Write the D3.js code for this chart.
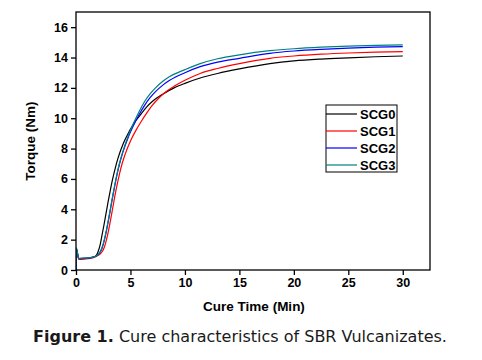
<!DOCTYPE html>
<html><head><meta charset="utf-8">
<script src="https://cdn.jsdelivr.net/npm/d3@7"></script>
<style>body{margin:0;background:#fff} svg{display:block}</style>
</head><body>
<script>
const seriesNames = ["SCG0", "SCG1", "SCG2", "SCG3"];
const seriesColors = ["#000000", "#ff0000", "#0000ff", "#008080"];

const timeSCG0 = [0,0.03,0.25,0.8,1.3,1.7,1.9,2.05,2.2,2.35,2.55,2.75,2.95,3.15,3.35,3.6,3.85,4.35,4.9,5.45,6.0,6.5,7,8,9,10,11.4,13,15,17.8,20,22.5,25,27.5,30];
const torqueSCG0 = [0,1.4,0.75,0.76,0.8,0.88,1.0,1.25,1.6,2.15,2.9,3.7,4.5,5.25,5.95,6.7,7.35,8.35,9.15,9.8,10.3,10.75,11.1,11.6,12.0,12.3,12.65,12.95,13.25,13.6,13.78,13.9,13.98,14.05,14.1];

const timeSCG1 = [0,0.03,0.25,0.8,1.3,1.7,2.0,2.2,2.4,2.6,2.8,3.0,3.2,3.4,3.6,3.8,4.0,4.25,4.5,5.0,5.5,6.0,6.5,7.0,7.5,8,9,10,11.4,13,15,17.8,20,22.5,25,27.5,30];
const torqueSCG1 = [0,1.35,0.7,0.72,0.76,0.84,0.95,1.05,1.2,1.5,2.0,2.65,3.4,4.2,5.0,5.7,6.35,7.05,7.6,8.5,9.2,9.8,10.35,10.85,11.25,11.6,12.1,12.5,12.95,13.28,13.6,13.95,14.1,14.22,14.3,14.35,14.39];

const timeSCG2 = [0,0.03,0.25,0.8,1.3,1.7,2.0,2.2,2.4,2.6,2.8,3.0,3.2,3.4,3.6,3.8,4.0,4.3,4.8,5.3,5.8,6.3,6.8,7.3,8,8.6,10,11.4,13,15,17.8,20,22.5,25,27.5,30];
const torqueSCG2 = [0,1.45,0.75,0.77,0.8,0.87,0.98,1.15,1.45,1.95,2.6,3.35,4.15,4.95,5.7,6.4,7.0,7.75,8.75,9.55,10.25,10.85,11.35,11.75,12.2,12.5,13.0,13.4,13.7,13.95,14.28,14.43,14.54,14.62,14.68,14.72];

const timeSCG3 = [0,0.03,0.25,0.8,1.3,1.7,2.0,2.2,2.4,2.6,2.8,3.0,3.2,3.4,3.6,3.8,4.0,4.3,4.8,5.3,5.8,6.3,6.8,7.3,8,8.6,10,11.4,13,15,17.8,20,22.5,25,27.5,30];
const torqueSCG3 = [0,1.45,0.77,0.78,0.82,0.88,1.0,1.18,1.5,2.0,2.65,3.4,4.2,5.0,5.75,6.45,7.05,7.8,8.85,9.7,10.45,11.1,11.6,12.0,12.45,12.75,13.2,13.6,13.92,14.18,14.45,14.58,14.68,14.75,14.8,14.83];

const xTicks = [0, 5, 10, 15, 20, 25, 30];
const yTicks = [0, 2, 4, 6, 8, 10, 12, 14, 16];

const times = [timeSCG0, timeSCG1, timeSCG2, timeSCG3];
const torques = [torqueSCG0, torqueSCG1, torqueSCG2, torqueSCG3];

const W = 482, H = 360;
const L = 76, R = 430, T = 12, B = 270;

const svg = d3.select("body").append("svg").attr("width", W).attr("height", H)
  .style("font-family", "'Liberation Sans', Arial, sans-serif");

const x = d3.scaleLinear().domain([0, 32.5]).range([L, R]);
const y = d3.scaleLinear().domain([0, 17]).range([B, T]);

svg.append("clipPath").attr("id", "clip").append("rect")
  .attr("x", L).attr("y", T).attr("width", R - L).attr("height", B - T);

const line = d3.line().x(d => x(d[0])).y(d => y(d[1])).curve(d3.curveMonotoneX);

const g = svg.append("g").attr("clip-path", "url(#clip)");
seriesNames.forEach((name, i) => {
  const pts = times[i].map((t, j) => [t, torques[i][j]]);
  g.append("path").datum(pts).attr("d", line)
    .attr("fill", "none").attr("stroke", seriesColors[i]).attr("stroke-width", 1.2);
});

// frame
svg.append("rect").attr("x", L).attr("y", T).attr("width", R - L).attr("height", B - T)
  .attr("fill", "none").attr("stroke", "#000").attr("stroke-width", 1.3);

const xAxis = svg.append("g").attr("transform", `translate(0,${B})`)
  .call(d3.axisBottom(x).tickValues(xTicks).tickSize(5).tickPadding(3));
const yAxis = svg.append("g").attr("transform", `translate(${L},0)`)
  .call(d3.axisLeft(y).tickValues(yTicks).tickSize(5).tickPadding(3));
[xAxis, yAxis].forEach(a => {
  a.select(".domain").remove();
  a.selectAll("line").attr("stroke", "#000").attr("stroke-width", 1.3);
  a.selectAll("text").attr("fill", "#000").style("font-size", "12.5px").style("font-weight", "bold")
    .style("font-family", "'Liberation Sans', Arial, sans-serif");
});

svg.append("text").attr("x", 254).attr("y", 311).attr("text-anchor", "middle")
  .style("font-size", "13.5px").style("font-weight", "bold").text("Cure Time (Min)");
svg.append("text").attr("transform", "translate(35,141) rotate(-90)").attr("text-anchor", "middle")
  .style("font-size", "13.5px").style("font-weight", "bold").text("Torque (Nm)");

// legend
const lg = svg.append("g");
lg.append("rect").attr("x", 326).attr("y", 105).attr("width", 71).attr("height", 67)
  .attr("fill", "#fff").attr("stroke", "#000").attr("stroke-width", 1);
seriesNames.forEach((name, i) => {
  const yy = 114 + i * 17;
  lg.append("line").attr("x1", 326).attr("x2", 357).attr("y1", yy).attr("y2", yy)
    .attr("stroke", seriesColors[i]).attr("stroke-width", 1.2);
  lg.append("text").attr("x", 360).attr("y", yy + 4.5)
    .style("font-size", "13px").style("font-weight", "bold").text(name);
});

// caption
const cap = svg.append("text").attr("x", 240).attr("y", 342).attr("text-anchor", "middle")
  .style("font-family", "'DejaVu Sans', sans-serif").style("font-size", "16px").attr("fill", "#1a1a1a");
cap.append("tspan").style("font-weight", "bold").text("Figure 1.");
cap.append("tspan").text(" Cure characteristics of SBR Vulcanizates.");
</script>
</body></html>
